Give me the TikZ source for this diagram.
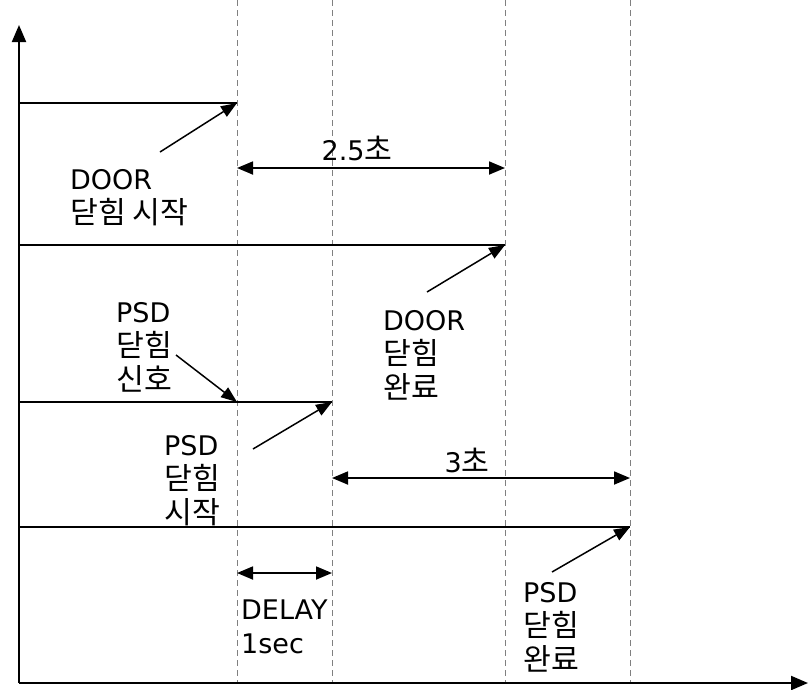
\documentclass[tikz,border=0pt]{standalone}
\usepackage{fontspec}
\setmainfont{DejaVu Sans}
\newfontfamily\kr[Scale=1.12]{Noto Sans CJK KR}
\usetikzlibrary{arrows.meta}
\begin{document}
\begin{tikzpicture}[x=1pt,y=-1pt,
 lbl/.style={anchor=north west, inner sep=0pt, align=left, font=\fontsize{27}{34}\selectfont},
 val/.style={inner sep=0pt, font=\fontsize{27}{34}\selectfont},
 guide/.style={draw=gray, line width=1pt, dash pattern=on 6pt off 4pt},
 level/.style={draw=black, line width=1.8pt},
 pointer/.style={draw=black, line width=1.5pt, -{Triangle[length=16pt,width=12pt]}},
 span/.style={draw=black, line width=1.8pt, {Triangle[length=16pt,width=13pt]}-{Triangle[length=16pt,width=13pt]}},
 axis/.style={draw=black, line width=2pt, -{Triangle[length=17pt,width=14pt]}}]
\useasboundingbox (0,0) rectangle (808,689);
% guide lines
\foreach \x/\n in {237/ga,332/gb,505/gc,630/gd} {
  \coordinate (\n top) at (\x,0);
  \coordinate (\n bot) at (\x,683);
  \draw[guide] (\n top) -- (\n bot);
}
% axes
\coordinate (origin) at (19,683);
\coordinate (ytip) at (19,25);
\coordinate (xtip) at (808,683);
\draw[axis] (origin) -- (ytip);
\draw[axis] (origin) -- (xtip);
% levels
\coordinate (l1s) at (19,103); \coordinate (l1e) at (237,103);
\coordinate (l2s) at (19,245); \coordinate (l2e) at (505,245);
\coordinate (l3s) at (19,402); \coordinate (l3e) at (332,402);
\coordinate (l4s) at (19,527); \coordinate (l4e) at (630,527);
\draw[level] (l1s) -- (l1e);
\draw[level] (l2s) -- (l2e);
\draw[level] (l3s) -- (l3e);
\draw[level] (l4s) -- (l4e);
% spans
\coordinate (s1a) at (237,168); \coordinate (s1b) at (505,168);
\coordinate (s2a) at (332,478); \coordinate (s2b) at (630,478);
\coordinate (s3a) at (237,573); \coordinate (s3b) at (332,573);
\draw[span] (s1a) -- (s1b);
\draw[span] (s2a) -- (s2b);
\draw[span] (s3a) -- (s3b);
\node[val] (t25) at (357,148) {2.5{\kr 초}};
\node[val] (t3) at (467,460) {3{\kr 초}};
% labels
\node[lbl] (doorstart) at (70,169) {DOOR\\{\kr 닫힘 시작}};
\node[lbl] (doorend) at (383,310) {DOOR\\{\kr 닫힘}\\{\kr 완료}};
\node[lbl] (psdsig) at (116,302) {PSD\\{\kr 닫힘}\\{\kr 신호}};
\node[lbl] (psdstart) at (164,435) {PSD\\{\kr 닫힘}\\{\kr 시작}};
\node[lbl] (psdend) at (523,582) {PSD\\{\kr 닫힘}\\{\kr 완료}};
\node[lbl] (delay) at (241,600) {DELAY\\1sec};
% pointers
\coordinate (p1) at (160,152);
\coordinate (p2) at (427,292);
\coordinate (p3) at (176,355); \coordinate (p3e) at (237,402);
\coordinate (p4) at (253,449);
\coordinate (p5) at (552,572);
\draw[pointer] (p1) -- (l1e);
\draw[pointer] (p2) -- (l2e);
\draw[pointer] (p3) -- (p3e);
\draw[pointer] (p4) -- (l3e);
\draw[pointer] (p5) -- (l4e);
\end{tikzpicture}
\end{document}
